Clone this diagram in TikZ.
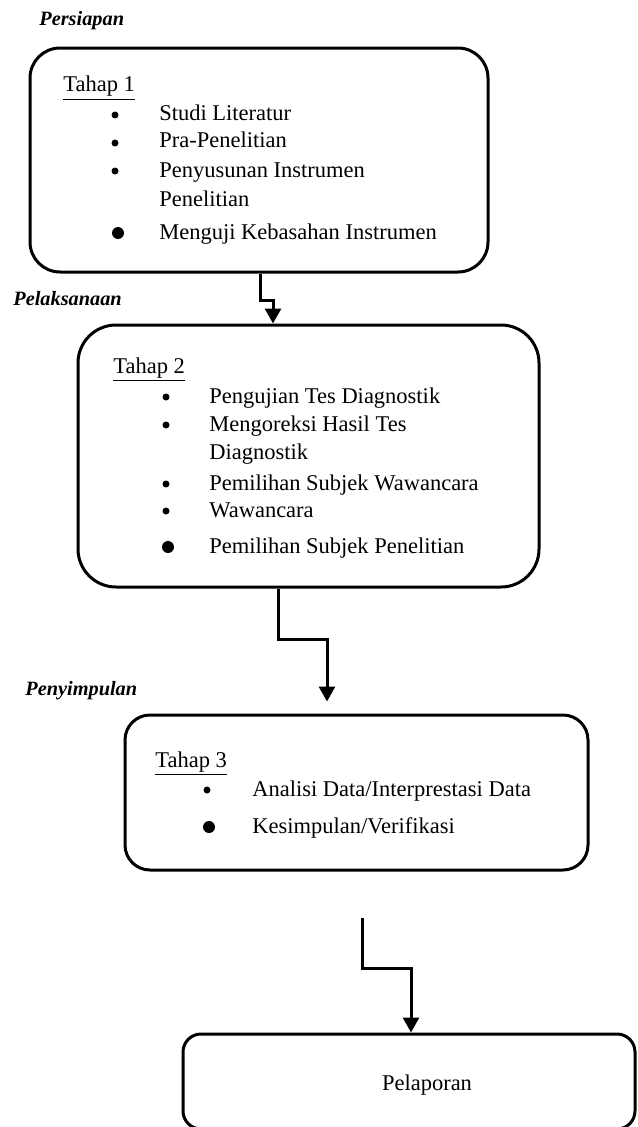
\documentclass[tikz,border=0pt]{standalone}
\usepackage{fontspec}
\setmainfont{Liberation Serif}
\usetikzlibrary{arrows.meta}

\begin{document}
\begin{tikzpicture}[x=0.6pt, y=-0.6pt,
    box/.style={draw, line width=1.8pt, inner sep=0pt},
    flow/.style={line width=1.8pt, -{Triangle[width=9.6pt,length=9pt]}},
    txt/.style={anchor=base west, inner sep=0pt, font=\fontsize{13.5}{15}\selectfont},
    phase/.style={anchor=base west, inner sep=0pt, font=\fontsize{12.2}{14}\selectfont\bfseries\itshape}]

      \useasboundingbox (0,0) rectangle (637,1127);

      \node[phase] (p1) at (39,26){Persiapan};
      \node[phase] (p2) at (13,305){Pelaksanaan};
      \node[phase] (p3) at (25,695){Penyimpulan};

      \node[box, rounded corners=18pt, minimum width=274.8pt, minimum height=134.4pt] (b1) at (259,160){};
      \node[box, rounded corners=22.8pt, minimum width=276.6pt, minimum height=157.2pt] (b2) at (308.5,456){};
      \node[box, rounded corners=15pt, minimum width=277.8pt, minimum height=93pt] (b3) at (356.5,792.5){};
      \node[box, rounded corners=10.8pt, minimum width=271.2pt, minimum height=57pt] (b4) at (409,1081.5){};

      % tahap 1
      \node[txt] (h1) at (63,92){\underline{Tahap 1}};
      \node[txt] (a1) at (159,121){Studi Literatur};
      \node[txt] (a2) at (159,148){Pra-Penelitian};
      \node[txt] (a3) at (159,177){Penyusunan Instrumen};
      \node[txt] (a3b) at (159,206){Penelitian};
      \node[txt] (a4) at (159,239){Menguji Kebasahan Instrumen};
      \fill (115,115) circle (2.1pt);
      \fill (115,143) circle (2.1pt);
      \fill (115,171) circle (2.1pt);
      \fill (118,233) circle (3.6pt);

      % tahap 2
      \node[txt] (h2) at (113,373){\underline{Tahap 2}};
      \node[txt] (c1) at (209,403){Pengujian Tes Diagnostik};
      \node[txt] (c2) at (209,431){Mengoreksi Hasil Tes};
      \node[txt] (c2b) at (209,459){Diagnostik};
      \node[txt] (c3) at (209,490){Pemilihan Subjek Wawancara};
      \node[txt] (c4) at (209,517){Wawancara};
      \node[txt] (c5) at (209,553){Pemilihan Subjek Penelitian};
      \fill (166,397) circle (2.1pt);
      \fill (166,425) circle (2.1pt);
      \fill (166,484) circle (2.1pt);
      \fill (166,511) circle (2.1pt);
      \fill (168,547) circle (3.6pt);

      % tahap 3
      \node[txt] (h3) at (155,767){\underline{Tahap 3}};
      \node[txt] (d1) at (252,796){Analisi Data/Interprestasi Data};
      \node[txt] (d2) at (252,833){Kesimpulan/Verifikasi};
      \fill (207,790) circle (2.1pt);
      \fill (209,827) circle (3.6pt);

      \node[anchor=base, inner sep=0pt, font=\fontsize{13.5}{15}\selectfont] (t4) at (427,1090){Pelaporan};

      \coordinate (s3) at (362,918);

      \draw[flow] (b1.south -| 260,0) |- (273,300) -- (b2.north -| 273,0);
      \draw[flow, shorten >=7.2pt] (b2.south -| 278,0) |- (327,639) -- (b3.north -| 327,0);
      \draw[flow] (s3) |- (411,968) -- (b4.north -| 411,0);

    \end{tikzpicture}
\end{document}
